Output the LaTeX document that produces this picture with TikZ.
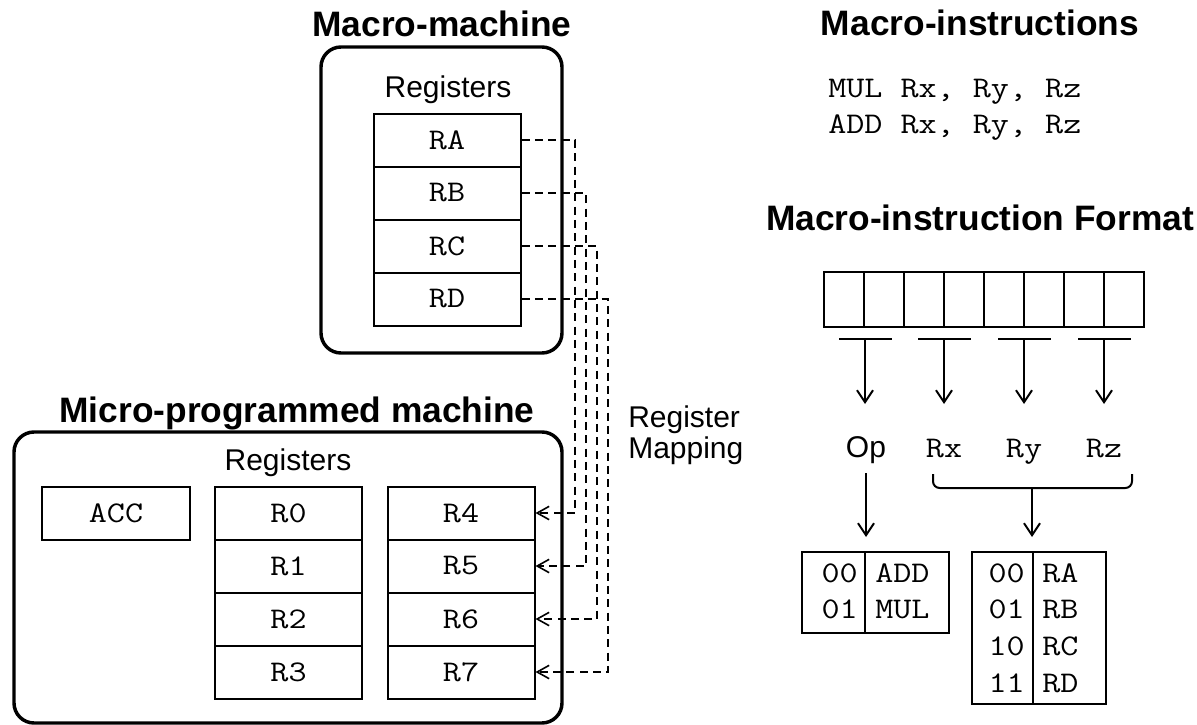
\documentclass[tikz,border=0pt]{standalone}
\usepackage{fontspec}
\setmainfont{Liberation Sans}
\setsansfont{Liberation Sans}
\setmonofont{Latin Modern Mono}[FakeStretch=1.17]
\usetikzlibrary{arrows.meta}
\begin{document}
\begin{tikzpicture}[x=0.75pt,y=-0.75pt,
  title/.style={font=\fontsize{26.5}{31}\selectfont\bfseries, inner sep=0pt},
  lbl/.style={font=\fontsize{22.5}{27}\selectfont, inner sep=0pt},
  mono/.style={font=\fontsize{22.5}{27}\selectfont\ttfamily},
  monotxt/.style={mono, inner sep=0pt},
  reg/.style={draw, line width=1.5pt, minimum width=110.25pt, minimum height=39.75pt, inner sep=0pt, mono},
  machine/.style={draw, line width=2.6pt, rounded corners=15pt, inner sep=0pt},
  cell/.style={draw, line width=1.5pt, minimum width=30pt, minimum height=41.25pt, inner sep=0pt},
  tcell/.style={draw, line width=1.5pt, inner sep=0pt},
  bar/.style={fill=black, inner sep=0pt, minimum width=39.75pt, minimum height=2pt},
  map/.style={line width=1.2pt, dash pattern=on 6pt off 4pt, -{Straight Barb[length=9pt,width=10pt,line width=1.2pt]}},
  arr/.style={line width=1.5pt, -{Straight Barb[length=9pt,width=12pt,line width=1.5pt]}}
]
\useasboundingbox (0,0) rectangle (1197,725);

% ---------- Macro machine ----------
\node[title, anchor=base] (macrotitle) at (442,36) {Macro-machine};
\node[machine, minimum width=180.75pt, minimum height=229.5pt] (macro) at (441.5,200) {};
\node[lbl, anchor=base] (macroregs) at (448,97) {Registers};
\node[reg] (RA) at (447,140) {RA};
\node[reg] (RB) at (447,193) {RB};
\node[reg] (RC) at (447,246) {RC};
\node[reg] (RD) at (447,299) {RD};

% ---------- Micro machine ----------
\node[title, anchor=base] (microtitle) at (297,422) {Micro-programmed machine};
\node[machine, minimum width=411pt, minimum height=218.25pt] (micro) at (288,577.5) {};
\node[lbl, anchor=base] (microregs) at (288,470) {Registers};
\node[reg, minimum width=111pt] (ACC) at (116,513) {ACC};
\node[reg] (R0) at (288.5,513) {R0};
\node[reg] (R1) at (288.5,566) {R1};
\node[reg] (R2) at (288.5,619) {R2};
\node[reg] (R3) at (288.5,672) {R3};
\node[reg] (R4) at (461,513) {R4};
\node[reg] (R5) at (461,566) {R5};
\node[reg] (R6) at (461,619) {R6};
\node[reg] (R7) at (461,672) {R7};

% ---------- Register mapping ----------
\draw[map] (RA.east) -| (575,513) -- (R4.east);
\draw[map] (RB.east) -| (586,566) -- (R5.east);
\draw[map] (RC.east) -| (597,619) -- (R6.east);
\draw[map] (RD.east) -| (608,672) -- (R7.east);
\node[lbl, anchor=base west] (maplbl1) at (628,427) {Register};
\node[lbl, anchor=base west] (maplbl2) at (628,458) {Mapping};

% ---------- Macro instructions ----------
\node[title, anchor=base] (instrtitle) at (980,35) {Macro-instructions};
\node[monotxt, anchor=base west] (mul) at (828,97) {MUL Rx, Ry, Rz};
\node[monotxt, anchor=base west] (add) at (828,133) {ADD Rx, Ry, Rz};

% ---------- Format ----------
\node[title, anchor=base] (fmttitle) at (980,230) {Macro-instruction Format};
\foreach \i/\x in {1/844,2/884,3/924,4/964,5/1004,6/1044,7/1084,8/1124}
  \node[cell] (c\i) at (\x,299.5) {};

\node[bar] (bar1) at (865,339) {};
\node[bar] (bar2) at (944,339) {};
\node[bar] (bar3) at (1024,339) {};
\node[bar] (bar4) at (1104,339) {};
\coordinate (e1) at (865,404);
\coordinate (e2) at (944,404);
\coordinate (e3) at (1024,404);
\coordinate (e4) at (1104,404);
\draw[arr] (bar1.center) -- (e1);
\draw[arr] (bar2.center) -- (e2);
\draw[arr] (bar3.center) -- (e3);
\draw[arr] (bar4.center) -- (e4);

\node[lbl, anchor=base] (op) at (866,457) {Op};
\node[monotxt, anchor=base] (rx) at (944,457) {Rx};
\node[monotxt, anchor=base] (ry) at (1024,457) {Ry};
\node[monotxt, anchor=base] (rz) at (1104,457) {Rz};

% brace
\coordinate (brL) at (933,474);
\coordinate (brR) at (1132,474);
\coordinate (brM) at (1032,488);
\draw[line width=1.5pt, rounded corners=5pt] (brL) |- (brM) -| (brR);

\coordinate (opS) at (866,473);
\coordinate (t1arr) at (866,537);
\coordinate (t2arr) at (1032,537);
\draw[arr] (opS) -- (t1arr);
\draw[arr] (brM) -- (t2arr);

% tables
\node[tcell, minimum width=47.25pt, minimum height=60.75pt] (t1l) at (833.5,592.5) {};
\node[tcell, minimum width=63pt, minimum height=60.75pt] (t1r) at (907,592.5) {};
\node[tcell, minimum width=45.75pt, minimum height=114pt] (t2l) at (1002.5,628) {};
\node[tcell, minimum width=54.75pt, minimum height=114pt] (t2r) at (1069.5,628) {};

\node[monotxt, anchor=base east] (n00a) at (858,582) {00};
\node[monotxt, anchor=base east] (n01a) at (858,618) {01};
\node[monotxt, anchor=base west] (nadd) at (875,582) {ADD};
\node[monotxt, anchor=base west] (nmul) at (875,618) {MUL};

\node[monotxt, anchor=base east] (n00b) at (1025,582) {00};
\node[monotxt, anchor=base east] (n01b) at (1025,618) {01};
\node[monotxt, anchor=base east] (n10b) at (1025,655) {10};
\node[monotxt, anchor=base east] (n11b) at (1025,692) {11};
\node[monotxt, anchor=base west] (nra) at (1042,582) {RA};
\node[monotxt, anchor=base west] (nrb) at (1042,618) {RB};
\node[monotxt, anchor=base west] (nrc) at (1042,655) {RC};
\node[monotxt, anchor=base west] (nrd) at (1042,692) {RD};
\end{tikzpicture}
\end{document}
